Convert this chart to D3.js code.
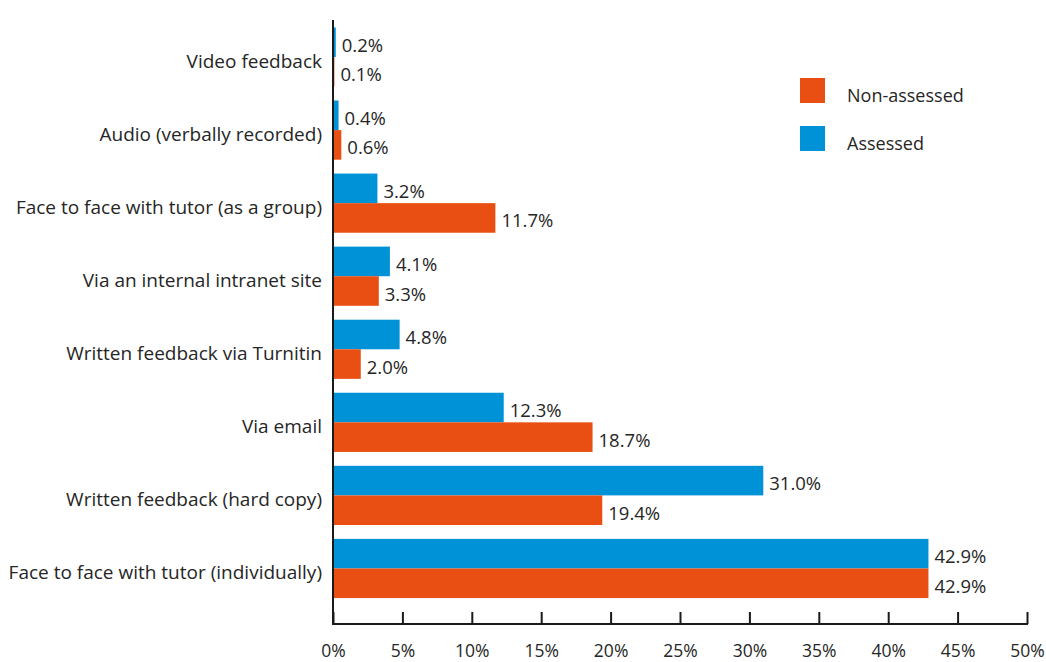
<!DOCTYPE html>
<html>
<head>
<meta charset="utf-8">
<script src="https://cdn.jsdelivr.net/npm/d3@7/dist/d3.min.js"></script>
<style>
  html, body { margin: 0; padding: 0; background: #fff; }
  svg { display: block; font-family: "Open Sans", sans-serif; }
</style>
</head>
<body>
<svg id="chart" width="1046" height="662"></svg>
<script>
const categories = [
  "Video feedback",
  "Audio (verbally recorded)",
  "Face to face with tutor (as a group)",
  "Via an internal intranet site",
  "Written feedback via Turnitin",
  "Via email",
  "Written feedback (hard copy)",
  "Face to face with tutor (individually)"
];
const assessed =    [0.2, 0.4, 3.2, 4.1, 4.8, 12.3, 31.0, 42.9];
const nonAssessed = [0.1, 0.6, 11.7, 3.3, 2.0, 18.7, 19.4, 42.9];
const seriesNames = ["Assessed", "Non-assessed"];
const xTicks = [0, 5, 10, 15, 20, 25, 30, 35, 40, 45, 50];

const colors = { "Assessed": "#0092d6", "Non-assessed": "#e94f12" };
const textColor = "#262626";

const svg = d3.select("#chart");
const x0 = 333, x1 = 1027, yTop = 20, yAxis = 624;

const x = d3.scaleLinear().domain([0, 50]).range([x0, x1]);
const y = d3.scaleBand().domain(categories).range([20.5, 605]).paddingInner(0.19).paddingOuter(0.095);
const ySub = d3.scaleBand().domain(seriesNames).range([0, y.bandwidth()]);

const rows = categories.map((c, i) => ({ cat: c, values: [
  { s: "Assessed", v: assessed[i] },
  { s: "Non-assessed", v: nonAssessed[i] }
]}));

const g = svg.append("g");
const grp = g.selectAll("g.row").data(rows).enter().append("g")
  .attr("transform", d => `translate(0,${y(d.cat)})`);

grp.selectAll("rect").data(d => d.values).enter().append("rect")
  .attr("x", x(0))
  .attr("y", d => ySub(d.s))
  .attr("width", d => x(d.v) - x(0))
  .attr("height", ySub.bandwidth())
  .attr("fill", d => colors[d.s]);

grp.selectAll("text.val").data(d => d.values).enter().append("text")
  .attr("class", "val")
  .attr("x", d => x(d.v) + 6)
  .attr("y", d => ySub(d.s) + ySub.bandwidth() / 2 + 2)
  .attr("dominant-baseline", "central")
  .attr("font-size", 18.5)
  .attr("fill", textColor)
  .text(d => d.v.toFixed(1) + "%");

// category labels
g.selectAll("text.cat").data(categories).enter().append("text")
  .attr("class", "cat")
  .attr("x", x0 - 11)
  .attr("y", d => y(d) + y.bandwidth() / 2 + 4)
  .attr("text-anchor", "end")
  .attr("dominant-baseline", "central")
  .attr("font-size", 19)
  .attr("fill", textColor)
  .text(d => d);

// x axis
const xAxis = d3.axisBottom(x).tickValues(xTicks).tickSize(0).tickFormat(d => d + "%");
const ax = svg.append("g").attr("transform", `translate(0,${yAxis})`).call(xAxis);
ax.select(".domain").remove();
ax.selectAll("text").attr("y", 26).attr("dy", null).attr("dominant-baseline", "central")
  .attr("font-size", 17.5).attr("fill", textColor)
  .attr("font-family", "Open Sans, sans-serif");
ax.selectAll(".tick").append("line").attr("y1", 0).attr("y2", -12)
  .attr("stroke", "#1a1a1a").attr("stroke-width", 2);

svg.append("line").attr("x1", x0 - 1).attr("x2", x1 + 1).attr("y1", yAxis).attr("y2", yAxis)
  .attr("stroke", "#1a1a1a").attr("stroke-width", 2);
svg.append("line").attr("x1", x0).attr("x2", x0).attr("y1", yTop).attr("y2", yAxis + 1)
  .attr("stroke", "#1a1a1a").attr("stroke-width", 2);

// legend
const legendItems = ["Non-assessed", "Assessed"];
const lg = svg.append("g");
legendItems.forEach((s, i) => {
  const yy = 78 + i * 48;
  lg.append("rect").attr("x", 800).attr("y", yy).attr("width", 25).attr("height", 25).attr("fill", colors[s]);
  lg.append("text").attr("x", 847).attr("y", yy + 17).attr("dominant-baseline", "central")
    .attr("font-size", 18).attr("fill", textColor).text(s);
});
</script>
</body>
</html>
